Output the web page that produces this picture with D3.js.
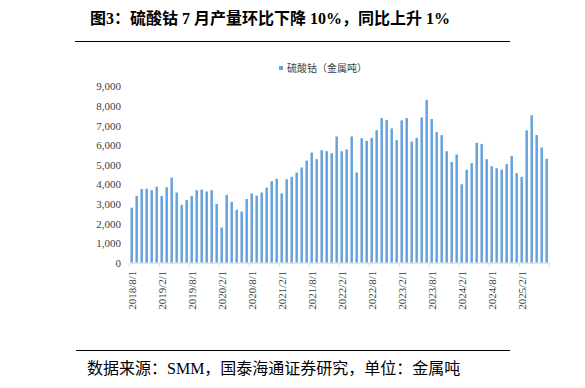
<!DOCTYPE html>
<html lang="zh">
<head>
    <meta charset="UTF-8">
    <title>硫酸钴产量</title>
    <script src="https://cdn.jsdelivr.net/npm/d3@7"></script>
    <style>
        body { margin: 0; background: #fff; }
        svg { display: block; }
    </style>
</head>
<body>
<script>
    // months shown on the category axis (2018/8 .. 2025/7)
    let months = [
        "2018/8/1","2018/9/1","2018/10/1","2018/11/1","2018/12/1",
        "2019/1/1","2019/2/1","2019/3/1","2019/4/1","2019/5/1","2019/6/1","2019/7/1","2019/8/1","2019/9/1","2019/10/1","2019/11/1","2019/12/1",
        "2020/1/1","2020/2/1","2020/3/1","2020/4/1","2020/5/1","2020/6/1","2020/7/1","2020/8/1","2020/9/1","2020/10/1","2020/11/1","2020/12/1",
        "2021/1/1","2021/2/1","2021/3/1","2021/4/1","2021/5/1","2021/6/1","2021/7/1","2021/8/1","2021/9/1","2021/10/1","2021/11/1","2021/12/1",
        "2022/1/1","2022/2/1","2022/3/1","2022/4/1","2022/5/1","2022/6/1","2022/7/1","2022/8/1","2022/9/1","2022/10/1","2022/11/1","2022/12/1",
        "2023/1/1","2023/2/1","2023/3/1","2023/4/1","2023/5/1","2023/6/1","2023/7/1","2023/8/1","2023/9/1","2023/10/1","2023/11/1","2023/12/1",
        "2024/1/1","2024/2/1","2024/3/1","2024/4/1","2024/5/1","2024/6/1","2024/7/1","2024/8/1","2024/9/1","2024/10/1","2024/11/1","2024/12/1",
        "2025/1/1","2025/2/1","2025/3/1","2025/4/1","2025/5/1","2025/6/1","2025/7/1"
    ]
    // cobalt sulfate output, metal tonnes
    let output = [
        2810,3410,3760,3780,3700,
        3880,3410,3850,4340,3580,2950,3190,3410,3700,3730,3630,3700,
        3000,1790,3460,3100,2700,2610,3250,3530,3420,3580,3830,4160,
        4280,3540,4260,4380,4600,4860,5210,5620,5280,5740,5690,5590,
        6440,5690,5780,6440,4600,6350,6220,6370,6760,7380,7290,6850,
        6250,7260,7380,6180,6370,7410,8310,7330,6660,6510,5690,5140,
        5520,4000,4740,5080,6120,6060,5280,4920,4820,4750,5030,5450,
        4570,4380,6750,7530,6510,5880,5300
    ]
    let xLabels = ["2018/8/1","2019/2/1","2019/8/1","2020/2/1","2020/8/1","2021/2/1","2021/8/1",
        "2022/2/1","2022/8/1","2023/2/1","2023/8/1","2024/2/1","2024/8/1","2025/2/1"]
    let yTicks = [0,1000,2000,3000,4000,5000,6000,7000,8000,9000]

    let title = "图3：硫酸钴 7 月产量环比下降 10%，同比上升 1%"
    let seriesName = "硫酸钴（金属吨）"
    let source = "数据来源：SMM，国泰海通证券研究，单位：金属吨"

    let W = 585, H = 388
    let svg = d3.select('body').append('svg')
        .attr('width', W).attr('height', H)

    let cjk = "'Liberation Serif','Noto Sans CJK SC',serif"

    // title + rules
    svg.append('text')
        .attr('x', 90).attr('y', 24)
        .style('font-family', cjk)
        .style('font-weight', 'bold')
        .style('font-size', '16px')
        .attr('fill', '#000')
        .text(title)
    svg.append('line')
        .attr('x1', 75).attr('x2', 510).attr('y1', 41.5).attr('y2', 41.5)
        .attr('stroke', '#000').attr('stroke-width', 1)
    svg.append('line')
        .attr('x1', 76).attr('x2', 510).attr('y1', 350.5).attr('y2', 350.5)
        .attr('stroke', '#000').attr('stroke-width', 1)
    svg.append('text')
        .attr('x', 87).attr('y', 374)
        .style('font-family', cjk)
        .style('font-size', '16px')
        .attr('fill', '#000')
        .text(source)

    // scales
    let x = d3.scaleBand()
        .domain(months)
        .range([129.2, 549.2])
        .paddingInner(0.5)
        .paddingOuter(0.25)
    let y = d3.scaleLinear()
        .domain([0, 9000])
        .range([262.7, 86.3])

    // bars
    svg.append('g')
        .selectAll('rect')
        .data(months)
        .enter()
        .append('rect')
        .attr('x', function (d) { return x(d) })
        .attr('y', function (d, i) { return y(output[i]) })
        .attr('width', x.bandwidth())
        .attr('height', function (d, i) { return y(0) - y(output[i]) })
        .attr('fill', '#66a3dc')

    // y axis (labels only)
    let yAxis = svg.append('g')
        .attr('transform', 'translate(121,0)')
        .call(d3.axisLeft(y).tickValues(yTicks).tickSize(0).tickPadding(0).tickFormat(d3.format(',')))
    yAxis.select('.domain').remove()
    yAxis.selectAll('text')
        .style('font-family', "'Liberation Serif',serif")
        .style('font-size', '11px')
        .attr('fill', '#404040')

    // x axis
    let base = y(0)
    let xAxis = svg.append('g')
        .attr('transform', 'translate(0,' + base + ')')
        .call(d3.axisBottom(x).tickValues(xLabels).tickSize(0).tickSizeOuter(0))
    xAxis.select('.domain').attr('stroke', '#d9d9d9')
    xAxis.selectAll('.tick text')
        .attr('transform', 'rotate(-90)')
        .attr('text-anchor', 'end')
        .attr('x', -8).attr('y', 0).attr('dy', '0.35em')
        .style('font-family', "'Liberation Serif',serif")
        .style('font-size', '11px')
        .attr('fill', '#404040')
    // tick marks between categories
    let step = x.step()
    let tickPos = xLabels.map(function (d) { return x(d) - step * 0.25 }).concat([x.range()[1]])
    svg.append('g')
        .selectAll('line')
        .data(tickPos)
        .enter()
        .append('line')
        .attr('x1', function (d) { return d }).attr('x2', function (d) { return d })
        .attr('y1', base).attr('y2', base + 4)
        .attr('stroke', '#d9d9d9')

    // legend
    svg.append('rect')
        .attr('x', 279).attr('y', 66).attr('width', 4).attr('height', 4)
        .attr('fill', '#66a3dc')
    svg.append('text')
        .attr('x', 287).attr('y', 72)
        .style('font-family', cjk)
        .style('font-size', '10px')
        .attr('fill', '#404040')
        .text(seriesName)
</script>
</body>
</html>
